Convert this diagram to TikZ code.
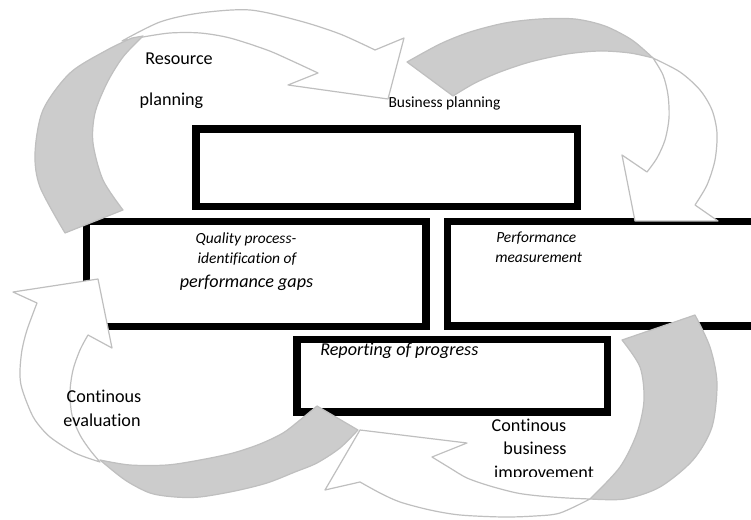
\documentclass[tikz,border=0pt]{standalone}
\usepackage{fontspec}
\setmainfont{Carlito}[Ligatures=NoCommon]
\definecolor{rimline}{HTML}{BFBFBF}
\definecolor{shade}{HTML}{CCCCCC}
\begin{document}
\begin{tikzpicture}[x=0.75pt,y=-0.75pt,
  frame/.style={draw=black, line width=5.6pt, fill=white},
  ribbon/.style={draw=rimline, line width=0.9pt, fill=white, line join=round},
  backside/.style={draw=rimline, line width=0.9pt, fill=shade, line join=round},
  big/.style={font=\fontsize{13.6}{16}\selectfont, inner sep=0pt, anchor=base},
  bigit/.style={font=\fontsize{13.6}{16}\selectfont\itshape, inner sep=0pt, anchor=base},
  small/.style={font=\fontsize{11.6}{14}\selectfont, inner sep=0pt, anchor=base},
  smallit/.style={font=\fontsize{11.6}{14}\selectfont\itshape, inner sep=0pt, anchor=base}]
\useasboundingbox (0,0) rectangle (751,520);
\clip (0,0) rectangle (751,520);

% the four frames
\draw[frame] (196,129) rectangle (577.5,206.5);
\draw[frame] (86.5,221.5) rectangle (426,326.5);
\draw[frame] (447.5,221.5) rectangle (770,326);
\draw[frame] (297,339.5) rectangle (607.5,412);

% top-left curved arrow
\draw[ribbon] plot[smooth] coordinates {(122,41) (160,22) (200,13) (250,10) (300,21) (340,34) (375,50)}
  -- (404,38) -- (388,99) -- (288,85) -- (318,73)
  -- plot[smooth] coordinates {(318,73) (290,60) (267,50) (230,38) (200,33) (170,33) (143,37)} -- cycle;
\draw[backside] plot[smooth] coordinates {(65,233) (40,187) (35,153) (43,110) (70,73) (107,50) (132,38)}
  -- plot[smooth] coordinates {(143,36) (123,57) (107,83) (95,113) (93,143) (103,180) (123,210)} -- cycle;

% top-right curved arrow
\draw[ribbon] plot[smooth] coordinates {(653,58) (663,75) (668,95) (669,118) (665,140) (657,158) (647,172)}
  -- (622,155) -- (635,221) -- (718,221) -- (695,205)
  -- plot[smooth] coordinates {(695,205) (707,185) (715,160) (717,133) (712,110) (700,90) (680,72) (653,58)} -- cycle;
\draw[backside] plot[smooth] coordinates {(407,62) (440,44) (470,32) (505,23) (540,19) (575,19) (605,26) (632,40) (653,58)}
  -- plot[smooth] coordinates {(653,58) (630,53) (600,51) (567,54) (530,62) (500,72) (475,83) (453,96)} -- cycle;

% bottom-left curved arrow
\draw[ribbon] plot[smooth] coordinates {(100,462) (75,453) (50,437) (35,420) (27,403) (21,385) (20,370) (22,350) (27,330) (37,303)}
  -- (13,292) -- (98,279) -- (112,348) -- (88,335)
  -- plot[smooth] coordinates {(88,335) (80,350) (73,370) (70,392) (72,415) (80,435) (90,450) (100,462)} -- cycle;
\draw[backside] plot[smooth] coordinates {(317,406) (300,420) (283,433) (260,444) (233,453) (200,460) (167,465) (130,465) (100,460)}
  -- plot[smooth] coordinates {(100,460) (125,480) (150,493) (175,497) (200,497) (235,491) (267,483) (295,472) (317,463) (340,448) (358,430)} -- cycle;

% bottom-right curved arrow
\draw[ribbon] plot[smooth] coordinates {(590,499) (567,498) (540,496) (517,493) (490,486) (467,478) (450,468) (432,457)}
  -- (467,443) -- (360,430) -- (325,490) -- (360,482)
  -- plot[smooth] coordinates {(360,482) (380,493) (400,502) (430,510) (460,515) (503,517) (535,516) (560,513) (590,499)} -- cycle;
\draw[backside] plot[smooth] coordinates {(695,315) (710,347) (717,383) (712,427) (693,460) (660,487) (625,499) (590,499)}
  -- plot[smooth] coordinates {(590,499) (620,467) (637,433) (644,400) (640,367) (622,340)} -- cycle;

% labels
\node[big] (res) at (179,65) {Resource};
\node[big] (pln) at (171.5,106) {planning};
\node[small] (bus) at (444.5,108) {Business planning};
\node[smallit] (qp1) at (246,244) {Quality process-};
\node[smallit] (qp2) at (247,264) {identification of};
\node[bigit] (qp3) at (246.5,288) {performance gaps};
\node[smallit, anchor=base west] (pm1) at (496,243) {Performance};
\node[smallit, anchor=base west] (pm2) at (495,263) {measurement};
\node[bigit, anchor=base west] (rep) at (320,356) {Reporting of progress};
\node[big] (ce1) at (104,403) {Continous};
\node[big] (ce2) at (102,427) {evaluation};
\node[big] (cb1) at (529,432) {Continous};
\node[big] (cb2) at (535,455) {business};
\begin{scope}
  \clip (440,0) rectangle (650,477);
  \node[big] (cb3) at (544,479) {improvement};
\end{scope}
\end{tikzpicture}
\end{document}
